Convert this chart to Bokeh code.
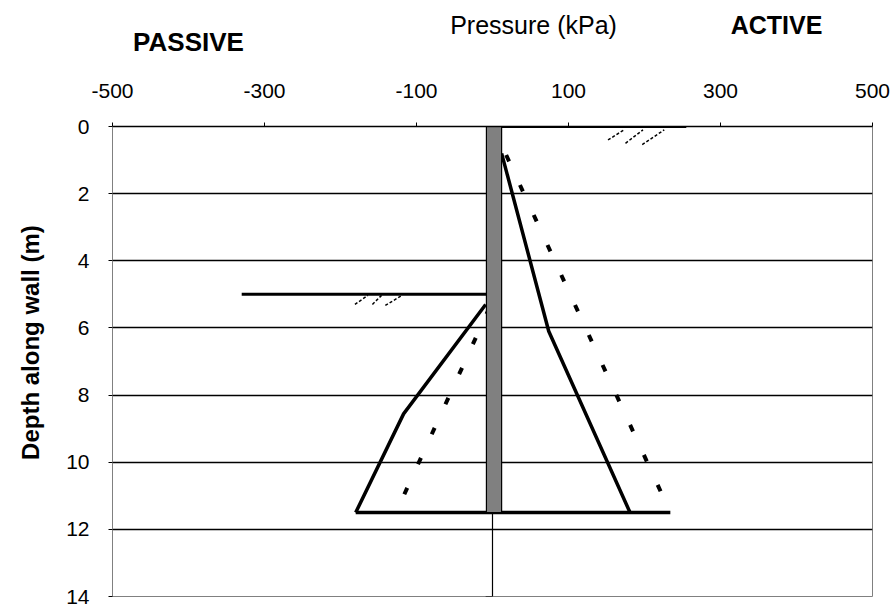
import math
from bokeh.plotting import figure
from bokeh.layouts import column, row
from bokeh.models import Range1d, FixedTicker
from bokeh.core.properties import value
from bokeh.embed import file_html
from bokeh.resources import INLINE

# ---- data ----
x_ticks = [-500, -300, -100, 100, 300, 500]
x_tick_labels = ["-500", "-300", "-100", "100", "300", "500"]
depth_ticks = [0, 2, 4, 6, 8, 10, 12, 14]
grid_depths = [2, 4, 6, 8, 10, 12]

wall_p = [-8, 12]
wall_d = [0, 11.5]

active_solid_p = [12, 74, 181]
active_solid_d = [0.8, 6.1, 11.5]
active_dotted_p = [18, 234]
active_dotted_d = [0.85, 11.5]

passive_solid_p = [-9, -117, -180]
passive_solid_d = [5.3, 8.56, 11.5]
passive_dotted_p = [-4, -127]
passive_dotted_d = [5.4, 11.5]

base_p = [-180, 234]
base_d = [11.5, 11.5]

centre_p = [0, 0, -9]
centre_d = [0, 14, 14]

ground_right_p = [0, 255]
ground_right_d = [0, 0]
ground_left_p = [-330, 0]
ground_left_d = [5, 5]

hatch_r_x0 = [152, 175, 197]
hatch_r_y0 = [0.40, 0.50, 0.54]
hatch_r_x1 = [173, 198, 226]
hatch_r_y1 = [0.10, 0.10, 0.10]
hatch_l_x0 = [-181, -158, -141]
hatch_l_y0 = [5.30, 5.30, 5.33]
hatch_l_x1 = [-164, -146, -119]
hatch_l_y1 = [5.03, 5.03, 5.03]

header_texts = ["PASSIVE", "Pressure (kPa)", "ACTIVE"]
y_title = "Depth along wall (m)"

FONT = "Liberation Sans"

TOTAL_W, TOTAL_H = 890, 609
HEAD_H = 74
LEFT_W = 58

# ---------- main plot ----------
p = figure(width=TOTAL_W - LEFT_W, height=TOTAL_H - HEAD_H,
           output_backend="svg", toolbar_location=None,
           x_range=Range1d(-500, 500), y_range=Range1d(14, 0),
           x_axis_location="above",
           min_border_left=112 - LEFT_W, min_border_right=TOTAL_W - 872,
           min_border_top=126 - HEAD_H, min_border_bottom=TOTAL_H - 596)
p.background_fill_color = "white"
p.border_fill_color = "white"
p.outline_line_color = "#808080"
p.outline_line_width = 1

xa = p.xaxis[0]
xa.ticker = FixedTicker(ticks=x_ticks)
xa.major_label_overrides = dict(zip(x_ticks, x_tick_labels))
xa.minor_tick_line_color = None
xa.major_tick_in = 0
xa.major_tick_out = 4
xa.major_tick_line_color = "black"
xa.axis_line_color = "black"
xa.axis_line_width = 1.5
xa.major_label_text_font = FONT
xa.major_label_text_font_size = "21px"
xa.major_label_text_color = "black"
xa.major_label_standoff = 25

ya = p.yaxis[0]
ya.ticker = FixedTicker(ticks=depth_ticks)
ya.minor_tick_line_color = None
ya.major_tick_in = 0
ya.major_tick_out = 4
ya.major_tick_line_color = "black"
ya.axis_line_color = "#808080"
ya.major_label_text_font = FONT
ya.major_label_text_font_size = "21px"
ya.major_label_text_color = "black"
ya.major_label_standoff = 19

p.xgrid.visible = False
p.ygrid.ticker = FixedTicker(ticks=grid_depths)
p.ygrid.grid_line_color = "black"
p.ygrid.grid_line_width = 1.3

p.line(centre_p, centre_d, line_color="black", line_width=1.2)
p.line(ground_right_p, ground_right_d, line_color="black", line_width=3)
p.line(ground_left_p, ground_left_d, line_color="black", line_width=3)
p.segment(hatch_r_x0, hatch_r_y0, hatch_r_x1, hatch_r_y1, line_color="black",
          line_width=1.5, line_dash="3 2")
p.segment(hatch_l_x0, hatch_l_y0, hatch_l_x1, hatch_l_y1, line_color="black",
          line_width=1.5, line_dash="3 2")
p.line(active_solid_p, active_solid_d, line_color="black", line_width=3.5)
p.line(passive_solid_p, passive_solid_d, line_color="black", line_width=3.5)
p.line(active_dotted_p, active_dotted_d, line_color="black", line_width=4,
       line_dash="7 26")
p.line(passive_dotted_p, passive_dotted_d, line_color="black", line_width=4,
       line_dash="7 26")
p.line(base_p, base_d, line_color="black", line_width=3.5)
p.quad(left=[wall_p[0]], right=[wall_p[1]], top=[wall_d[0]], bottom=[wall_d[1]],
       fill_color="#808080", line_color="black", line_width=1.2)

# ---------- header strip (texts above the axis) ----------
h = figure(width=TOTAL_W, height=HEAD_H, output_backend="svg",
           toolbar_location=None, x_axis_type=None, y_axis_type=None,
           x_range=Range1d(0, TOTAL_W), y_range=Range1d(HEAD_H, 0),
           min_border=0)
h.outline_line_color = None
h.xgrid.visible = False
h.ygrid.visible = False
h.text(x=[188], y=[41], text=[header_texts[0]], text_font=value(FONT),
       text_font_size="26px", text_font_style="bold", text_align="center",
       text_baseline="middle", text_color="black")
h.text(x=[533], y=[24], text=[header_texts[1]], text_font=value(FONT),
       text_font_size="25px", text_align="center", text_baseline="middle",
       text_color="black")
h.text(x=[776], y=[24], text=[header_texts[2]], text_font=value(FONT),
       text_font_size="25px", text_font_style="bold", text_align="center",
       text_baseline="middle", text_color="black")

# ---------- left strip (depth title) ----------
lft = figure(width=LEFT_W, height=TOTAL_H - HEAD_H, output_backend="svg",
             toolbar_location=None, x_axis_type=None, y_axis_type=None,
             x_range=Range1d(0, LEFT_W), y_range=Range1d(TOTAL_H - HEAD_H, 0),
             min_border=0)
lft.outline_line_color = None
lft.xgrid.visible = False
lft.ygrid.visible = False
lft.text(x=[30], y=[320 - HEAD_H], text=[y_title], text_font=value(FONT),
         text_font_size="24px", text_font_style="bold", text_align="center",
         text_baseline="middle", angle=math.pi / 2, text_color="black")

layout = column(h, row(lft, p, spacing=0), spacing=0)

open("out.html", "w").write(file_html(layout, INLINE))
